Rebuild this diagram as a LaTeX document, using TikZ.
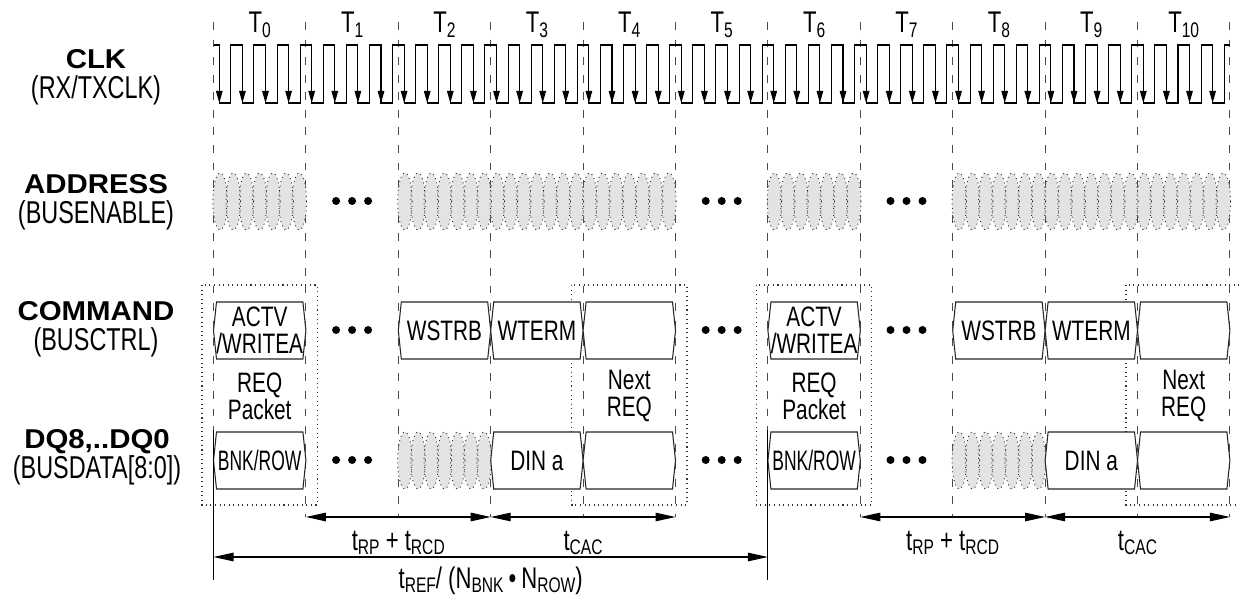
\documentclass[tikz,border=0pt]{standalone}
\usepackage{fontspec}
\setmainfont[FakeStretch=0.74]{Liberation Sans}
\newfontfamily\grasfont[FakeStretch=1.08]{Liberation Sans Bold}
\usetikzlibrary{arrows.meta}

\newcommand{\bx}[1]{213.5+92.4*(#1)}
\newcommand{\ind}[1]{\raisebox{-0.14em}{\fontsize{12}{12}\selectfont #1}}
\newcommand{\signom}[1]{{\grasfont\fontsize{15.5}{16}\selectfont #1}}
\newcommand{\busbox}[5]{%
   \draw[boite] ({\bx{#2}},#4+28.5) -- ({\bx{#2}+3},#4) -- ({\bx{#3}-3},#4)
     -- ({\bx{#3}},#4+28.5) -- ({\bx{#3}-3},#4+57) -- ({\bx{#2}+3},#4+57) -- cycle;
   \node[texte] (#1) at ({(\bx{#2}+\bx{#3})/2},#4+28.5) {#5};}
\newcommand{\hachure}[3]{%
   \pgfmathtruncatemacro\nl{7*(#2-#1)-1}
   \foreach \j in {0,...,\nl}
     \fill[gris] ({\bx{#1}+6.6+13.2*\j},#3+28.5) ellipse (7.2 and 28.5);
   \foreach \j in {0,...,\nl}
     \draw[pointille] ({\bx{#1}+6.6+13.2*\j},#3+28.5) ellipse (7.2 and 28.5);}
\newcommand{\points}[2]{%
   \foreach \d in {-16,0,16}
     \fill ({\bx{#1}+46.2+\d},#2) circle (4);}

\begin{document}
\begin{tikzpicture}[x=0.02cm,y=-0.02cm,
     tirets/.style={black!70,line width=0.6pt,dash pattern=on 4.5pt off 5.5pt},
     signal/.style={black,line width=0.6pt},
     fleche/.style={-{Triangle[length=0.24cm,width=0.13cm]}},
     cote/.style={black,line width=0.6pt,{Triangle[length=0.4cm,width=0.17cm]}-{Triangle[length=0.4cm,width=0.17cm]}},
     boite/.style={black!85,line width=0.6pt,fill=white},
     gris/.style={fill=black!11},
     pointille/.style={black!80,line width=0.55pt,dotted},
     cadre/.style={black!80,line width=0.6pt,dotted},
     texte/.style={align=center,inner sep=0pt,font=\fontsize{16}{15.5}\selectfont},
     cycle/.style={anchor=base,inner sep=0pt,font=\fontsize{17}{18}\selectfont},
     nom/.style={align=center,inner sep=0pt,font=\fontsize{18}{17}\selectfont},
     etiq/.style={inner sep=0pt,font=\fontsize{17}{18}\selectfont}]
   \useasboundingbox (0,0) rectangle (1239,597);
   % lignes des cycles
   \foreach \i in {0,...,11}
     \draw[tirets] ({\bx{\i}},22) -- ({\bx{\i}},517);
   \foreach \i in {0,...,10}
     \node[cycle] (t\i) at ({\bx{\i}+46.2},33) {T\ind{\i}};
   % horloge
   \draw[signal] (213.5,45) \foreach \k in {0,...,43} {
       -- ({219.3+23.1*\k},45) -- ({219.3+23.1*\k},103)
       -- ({230.85+23.1*\k},103) -- ({230.85+23.1*\k},45)} -- (1230,45);
   \foreach \k in {0,...,43}
     \draw[signal,fleche] ({219.3+23.1*\k},45) -- ({219.3+23.1*\k},103);
   % cadres REQ
   \foreach \i in {0,4,6,10}
     \draw[cadre] ({\bx{\i}-11.5},285) rectangle ({\bx{\i+1}+11.5},505);
   % ADDRESS
   \hachure{0}{1}{173} \hachure{2}{5}{173} \hachure{6}{7}{173} \hachure{8}{11}{173}
   \points{1}{201} \points{5}{201} \points{7}{201}
   % COMMAND
   \busbox{actA}{0}{1}{302}{ACTV\\/WRITEA}
   \busbox{wstrbA}{2}{3}{302}{WSTRB}
   \busbox{wtermA}{3}{4}{302}{WTERM}
   \busbox{suivA}{4}{5}{302}{}
   \busbox{actB}{6}{7}{302}{ACTV\\/WRITEA}
   \busbox{wstrbB}{8}{9}{302}{WSTRB}
   \busbox{wtermB}{9}{10}{302}{WTERM}
   \busbox{suivB}{10}{11}{302}{}
   \points{1}{330} \points{5}{330} \points{7}{330}
   \node[texte] (reqA) at ({\bx{0}+46.2},396) {REQ\\Packet};
   \node[texte] (nextA) at ({\bx{4}+46.2},396) {Next\\REQ};
   \node[texte] (reqB) at ({\bx{6}+46.2},396) {REQ\\Packet};
   \node[texte] (nextB) at ({\bx{10}+46.2},396) {Next\\REQ};
   % DQ
   \hachure{2}{3}{432} \hachure{8}{9}{432}
   \busbox{bnkA}{0}{1}{432}{\scalebox{0.84}[1]{BNK/ROW}}
   \busbox{dinA}{3}{4}{432}{DIN a}
   \busbox{videA}{4}{5}{432}{}
   \busbox{bnkB}{6}{7}{432}{\scalebox{0.84}[1]{BNK/ROW}}
   \busbox{dinB}{9}{10}{432}{DIN a}
   \busbox{videB}{10}{11}{432}{}
   \points{1}{460} \points{5}{460} \points{7}{460}
   % noms des signaux
   \node[nom] (clk) at (96,77) {\signom{CLK}\\(RX/TXCLK)};
   \node[nom] (addr) at (96,202) {\signom{ADDRESS}\\(BUSENABLE)};
   \node[nom] (cmd) at (96,329) {\signom{COMMAND}\\(BUSCTRL)};
   \node[nom] (dq) at (97,457) {\signom{DQ8,..DQ0}\\(BUSDATA[8:0])};
   % cotes
   \draw[signal] ({\bx{0}},430) -- ({\bx{0}},580);
   \draw[signal] ({\bx{6}},430) -- ({\bx{6}},580);
   \foreach \i in {0,...,11} {
     \coordinate (c\i) at ({\bx{\i}},517);
     \coordinate (r\i) at ({\bx{\i}},557);}
   \draw[cote] (c1) -- (c3);
   \draw[cote] (c3) -- (c5);
   \draw[cote] (c7) -- (c9);
   \draw[cote] (c9) -- (c11);
   \draw[cote] (r0) -- (r6);
   \node[etiq] (trpA) at ({\bx{2}},543) {t\ind{RP} + t\ind{RCD}};
   \node[etiq] (tcacA) at ({\bx{4}},543) {t\ind{CAC}};
   \node[etiq] (trpB) at ({\bx{8}},543) {t\ind{RP} + t\ind{RCD}};
   \node[etiq] (tcacB) at ({\bx{10}},543) {t\ind{CAC}};
   \node[etiq] (tref) at ({\bx{3}},581) {t\ind{REF}/ (N\ind{BNK}\,•\,N\ind{ROW})};
\end{tikzpicture}
\end{document}
